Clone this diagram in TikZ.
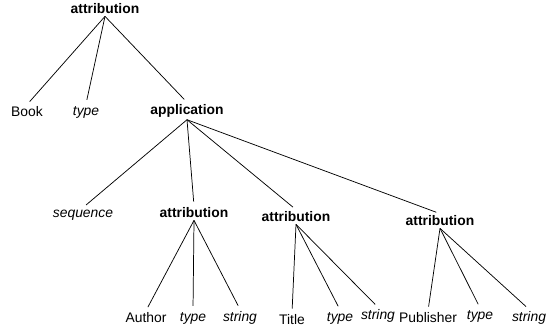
\documentclass[tikz,border=0pt]{standalone}
\usepackage{fontspec}
\setmainfont{Liberation Sans}
\usepackage{tikz}

\begin{document}
\begin{tikzpicture}[x=0.75pt,y=-0.75pt,
		word/.style={inner sep=1.5pt,font=\fontsize{10.4}{12}\selectfont},
		head/.style={word,font=\fontsize{10.4}{12}\selectfont\bfseries},
		kind/.style={word,font=\fontsize{10.4}{12}\selectfont\itshape},
		branch/.style={line width=0.55pt,shorten >=3pt}]
		\useasboundingbox (0,0) rectangle (548,333);
		
		% top level
		\node[head] (attr) at (105,9) {attribution};
		\node[word] (book) at (27,112) {Book};
		\node[kind] (booktype) at (86,112) {type};
		\node[head] (app) at (187,111) {application};
		
		% arguments of the application
		\node[kind] (seq) at (83,215) {sequence};
		\node[head] (attrA) at (194,213) {attribution};
		\node[head] (attrT) at (296,217) {attribution};
		\node[head] (attrP) at (440,221) {attribution};
		
		% leaves
		\node[word] (author) at (146,318) {Author};
		\node[kind] (authtype) at (193,318) {type};
		\node[kind] (authstr) at (240,318) {string};
		\node[word] (title) at (292,320) {Title};
		\node[kind] (titletype) at (340,318) {type};
		\node[kind] (titlestr) at (378,316) {string};
		\node[word] (pub) at (428,318) {Publisher};
		\node[kind] (pubtype) at (480,316) {type};
		\node[kind] (pubstr) at (529,318) {string};
		
		\draw[branch] (attr.south) -- (book.north);
		\draw[branch] (attr.south) -- (booktype.north);
		\draw[branch] (attr.south) -- (app.north);
		
		\draw[branch] (app.south) -- (seq.north);
		\draw[branch] (app.south) -- (attrA.north);
		\draw[branch] (app.south) -- (attrT.north);
		\draw[branch] (app.south) -- (attrP.north);
		
		\draw[branch] (attrA.south) -- (author.north);
		\draw[branch] (attrA.south) -- (authtype.north);
		\draw[branch] (attrA.south) -- (authstr.north);
		
		\draw[branch] (attrT.south) -- (title.north);
		\draw[branch] (attrT.south) -- (titletype.north);
		\draw[branch] (attrT.south) -- (titlestr.north);
		
		\draw[branch] (attrP.south) -- (pub.north);
		\draw[branch] (attrP.south) -- (pubtype.north);
		\draw[branch] (attrP.south) -- (pubstr.north);
\end{tikzpicture}
\end{document}
